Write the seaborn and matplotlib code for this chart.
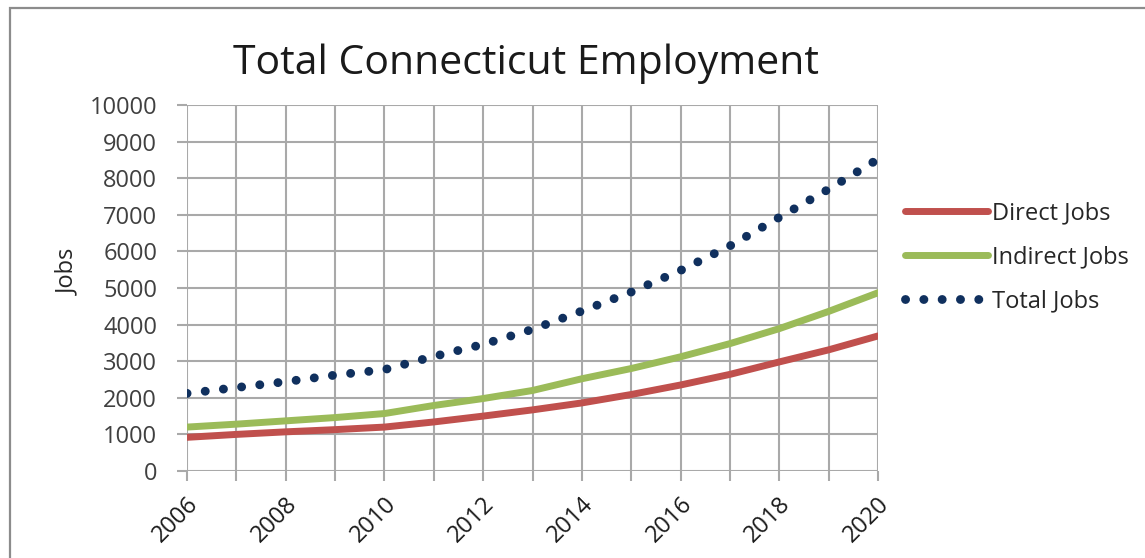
import matplotlib
matplotlib.use("Agg")
import matplotlib.pyplot as plt
import matplotlib.patches as mpatches
import matplotlib.transforms as mtransforms
import seaborn as sns
import pandas as pd

# Employment series (jobs per year)
years = list(range(2006, 2021))
direct_jobs = [920, 1000, 1070, 1130, 1200, 1340, 1500, 1670, 1860, 2090, 2350, 2640, 2980, 3310, 3690]
indirect_jobs = [1200, 1280, 1370, 1460, 1570, 1790, 1980, 2200, 2520, 2800, 3120, 3480, 3890, 4360, 4870]
total_jobs = [2120, 2280, 2440, 2620, 2770, 3130, 3460, 3870, 4370, 4890, 5480, 6150, 6930, 7700, 8520]

series_names = ["Direct Jobs", "Indirect Jobs", "Total Jobs"]
series_colors = ["#C0504D", "#9BBB59", "#10305E"]
year_ticks = list(range(2006, 2021, 2))
y_ticks = list(range(0, 10001, 1000))

df = pd.DataFrame({"Year": years, "Direct Jobs": direct_jobs,
                   "Indirect Jobs": indirect_jobs, "Total Jobs": total_jobs})

sns.set_theme(style="white")
plt.rcParams["font.family"] = ["Open Sans", "DejaVu Sans"]
grid_c = "#a9a9a9"
fs = 17

W, H = 1145, 558
fig = plt.figure(figsize=(W / 100, H / 100), dpi=100)
ax = fig.add_axes([187 / W, 1 - 471 / H, (878 - 187) / W, (471 - 105) / H])

lw = 5.0
sns.lineplot(data=df, x="Year", y="Direct Jobs", ax=ax, color=series_colors[0],
             lw=lw, solid_capstyle="round", label=series_names[0])
sns.lineplot(data=df, x="Year", y="Indirect Jobs", ax=ax, color=series_colors[1],
             lw=lw, solid_capstyle="round", label=series_names[1])
sns.lineplot(data=df, x="Year", y="Total Jobs", ax=ax, color=series_colors[2],
             lw=6.4, dashes=(0.01, 2.05), dash_capstyle="round", label=series_names[2])

ax.set_xlim(2006, 2020)
ax.set_ylim(0, 10000)
ax.set_xticks(years, minor=True)
ax.set_xticks(year_ticks)
ax.set_yticks(y_ticks)
ax.grid(True, which="both", axis="x", color=grid_c, lw=1.5)
ax.grid(True, which="major", axis="y", color=grid_c, lw=1.5)
ax.set_axisbelow(True)
for s in ax.spines.values():
    s.set_visible(False)

ax.tick_params(axis="both", which="both", direction="out", color=grid_c, width=1.5)
ax.tick_params(axis="x", which="both", length=7.5, bottom=True)
ax.tick_params(axis="y", length=7.5, left=True, pad=14, labelsize=fs, labelcolor="#404040")
ax.tick_params(axis="x", which="major", pad=14, labelsize=fs, labelcolor="#1a1a1a")

ax.set_xticklabels([str(y) for y in year_ticks], rotation=45, ha="right", va="center",
                   rotation_mode="anchor", fontweight="medium")
shift = mtransforms.ScaledTranslation(8 / 100, 0, fig.dpi_scale_trans)
for lab in ax.get_xticklabels():
    lab.set_transform(lab.get_transform() + shift)

ax.set_xlabel("")
ax.set_ylabel("")
fig.text(68 / W, 1 - 272 / H, "Jobs", rotation=90, ha="center", va="center",
         fontsize=fs, color="#262626")

fig.text(526 / W, 1 - 64 / H, "Total Connecticut Employment", ha="center", va="center",
         fontsize=29.5, color="#1a1a1a")

ax.legend(loc="center left", bbox_to_anchor=(905 / W, 1 - 257 / H),
          bbox_transform=fig.transFigure, frameon=False, fontsize=fs,
          handlelength=3.5, handletextpad=0.2, labelspacing=0.85,
          borderpad=0, borderaxespad=0, labelcolor="#262626")

# outer chart border
fig.patches.append(mpatches.Rectangle((10 / W, -0.1), 1.5, 1.1 - 8 / H,
                                      transform=fig.transFigure, fill=False,
                                      edgecolor="#8c8c8c", lw=1.6, figure=fig))

fig.savefig("out.png", dpi=100)
